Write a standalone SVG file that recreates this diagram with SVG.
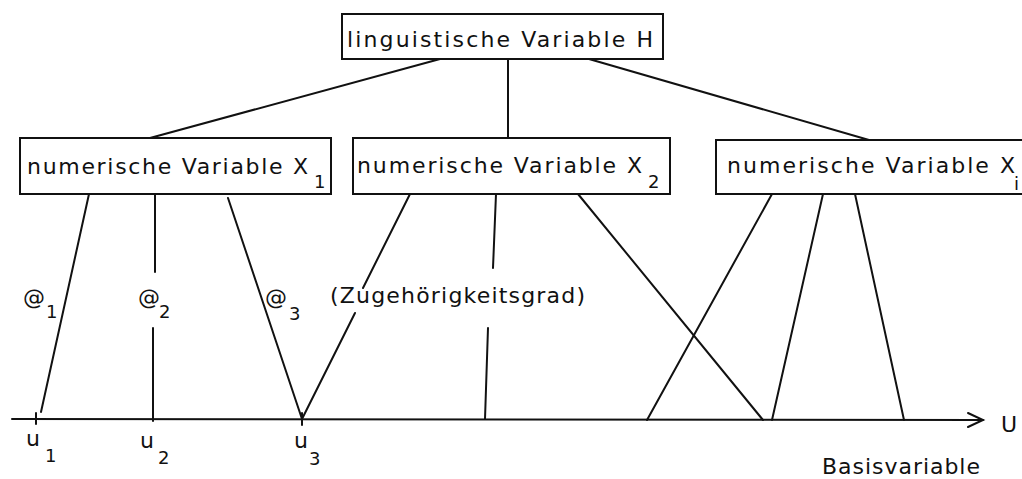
<svg xmlns="http://www.w3.org/2000/svg" width="1022" height="479" viewBox="0 0 1022 479">
<style>
.box{fill:none;stroke:#111;stroke-width:2}
.ln{stroke:#111;stroke-width:2;fill:none;stroke-linecap:round}
text{font-family:"DejaVu Sans","Liberation Sans",sans-serif;fill:#111}
.t{font-size:22px}
.s{font-size:18px}
.a{font-size:22px}
</style>
<rect width="1022" height="479" fill="#fff"/>
<g id="connectors">
<line class="ln" x1="440" y1="59" x2="150" y2="138"/>
<line class="ln" x1="508" y1="59" x2="508" y2="138"/>
<line class="ln" x1="589" y1="59" x2="869" y2="140"/>
<line class="ln" x1="89" y1="194" x2="41" y2="412"/>
<line class="ln" x1="155" y1="194" x2="155" y2="272"/>
<line class="ln" x1="153" y1="328" x2="153" y2="421"/>
<line class="ln" x1="228" y1="198" x2="302" y2="419"/>
<line class="ln" x1="410" y1="194" x2="363" y2="288"/>
<line class="ln" x1="355" y1="313" x2="302" y2="419"/>
<line class="ln" x1="496" y1="194" x2="493" y2="268"/>
<line class="ln" x1="488" y1="328" x2="485" y2="419"/>
<line class="ln" x1="578" y1="194" x2="763" y2="420"/>
<line class="ln" x1="772" y1="194" x2="647" y2="420"/>
<line class="ln" x1="823" y1="194" x2="772" y2="420"/>
<line class="ln" x1="855" y1="194" x2="904" y2="420"/>
<line class="ln" x1="12" y1="419" x2="983" y2="420"/>
<polyline class="ln" points="968,413 983,420 968,427"/>
<line class="ln" x1="36" y1="413" x2="36" y2="424"/>
<line class="ln" x1="302" y1="413" x2="302" y2="425"/>
</g>
<g id="node-H">
<rect class="box" x="342" y="14" width="321" height="45"/>
<text class="t" x="347" y="47" textLength="306" lengthAdjust="spacing">linguistische Variable H</text>
</g>
<g id="node-X1">
<rect class="box" x="20" y="138" width="311" height="56"/>
<text class="t" x="27" y="174" textLength="281" lengthAdjust="spacing">numerische Variable X</text>
<text class="s" x="314" y="188">1</text>
</g>
<g id="node-X2">
<rect class="box" x="353" y="138" width="317" height="56"/>
<text class="t" x="357" y="173" textLength="285" lengthAdjust="spacing">numerische Variable X</text>
<text class="s" x="648" y="188">2</text>
</g>
<g id="node-Xi">
<path class="box" d="M1030,140 H716 V194 H1030"/>
<text class="t" x="727" y="173" textLength="288" lengthAdjust="spacing">numerische Variable X</text>
<text class="s" x="1014" y="190">i</text>
</g>
<g id="labels">
<text class="a" x="23" y="305">@</text><text class="s" x="46" y="318">1</text>
<text class="a" x="138" y="305">@</text><text class="s" x="159" y="318">2</text>
<text class="a" x="265" y="305">@</text><text class="s" x="289" y="320">3</text>
<text class="t" x="330" y="303" textLength="255" lengthAdjust="spacing">(Zugehörigkeitsgrad)</text>
<text class="t" x="26" y="446">u</text><text class="s" x="45" y="462">1</text>
<text class="t" x="140" y="448">u</text><text class="s" x="158" y="464">2</text>
<text class="t" x="294" y="448">u</text><text class="s" x="309" y="465">3</text>
<text class="t" x="1001" y="432">U</text>
<text class="t" x="822" y="474" textLength="158" lengthAdjust="spacing">Basisvariable</text>
</g>
</svg>
